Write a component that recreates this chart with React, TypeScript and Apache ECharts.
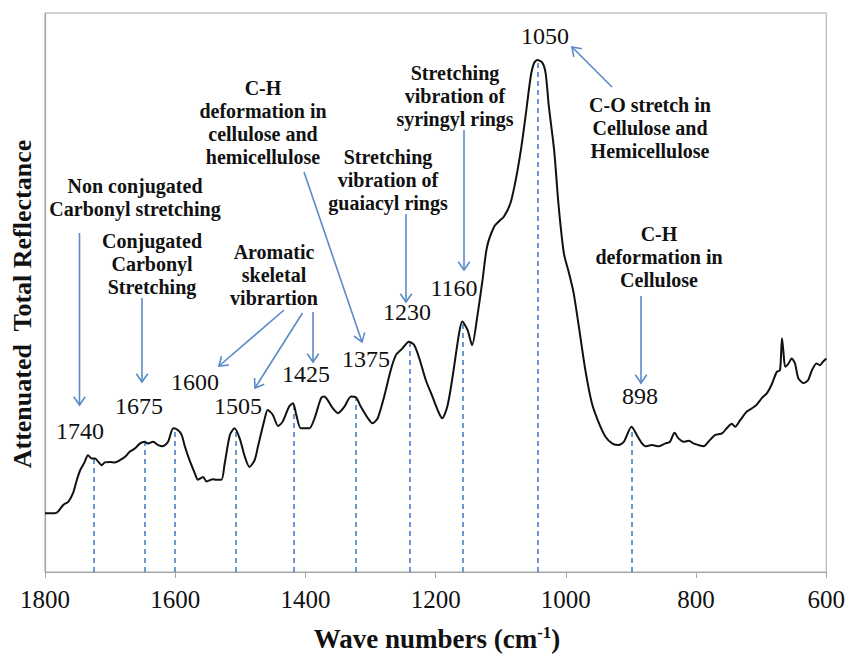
import React, { useEffect, useRef } from "react";
import * as echarts from "echarts";

// ---- data ----
const waveNumbers = [
  1800, 1785, 1780, 1772, 1764, 1757, 1751, 1746, 1739, 1734,
  1728, 1723, 1718, 1713, 1708, 1700, 1693, 1685, 1677, 1670,
  1662, 1654, 1647, 1642, 1634, 1626, 1619, 1611, 1603, 1596,
  1590, 1585, 1578, 1570, 1565, 1557, 1552, 1542, 1537, 1529,
  1524, 1516, 1509, 1501, 1493, 1486, 1478, 1473, 1463, 1458,
  1450, 1442, 1435, 1425, 1419, 1414, 1407, 1394, 1386, 1376,
  1371, 1366, 1358, 1350, 1340, 1330, 1322, 1315, 1304, 1297,
  1289, 1279, 1269, 1261, 1251, 1241, 1233, 1225, 1215, 1205,
  1197, 1190, 1182, 1174, 1164, 1159, 1151, 1144, 1136, 1128,
  1121, 1110, 1103, 1095, 1085, 1077, 1069, 1062, 1054, 1049,
  1044, 1036, 1031, 1026, 1018, 1011, 1003, 995, 988, 980,
  970, 960, 949, 939, 929, 919, 911, 899, 891, 883,
  878, 868, 857, 847, 840, 833, 827, 819, 811, 804,
  796, 788, 781, 771, 760, 753, 745, 740, 732, 722,
  714, 707, 699, 691, 684, 676, 671, 668, 666, 663,
  658, 653, 648, 643, 635, 628, 622, 615, 610, 605,
  600,
];
const reflectance = [
  10.5, 10.5, 10.8, 12.0, 12.6, 14.1, 16.5, 18.2, 19.7, 20.9,
  20.3, 20.3, 19.7, 19.1, 19.6, 19.7, 19.6, 20.0, 20.6, 21.5,
  22.1, 23.0, 23.3, 23.0, 23.3, 22.7, 22.5, 23.3, 25.7, 25.4,
  24.5, 22.4, 20.0, 17.7, 16.5, 17.0, 16.2, 16.6, 16.5, 16.5,
  19.4, 24.5, 25.7, 23.9, 20.6, 18.8, 20.0, 22.4, 27.2, 29.0,
  28.1, 26.1, 26.9, 29.6, 30.2, 28.1, 25.7, 25.7, 27.5, 31.1,
  31.4, 30.8, 29.3, 28.4, 29.6, 31.4, 31.2, 29.6, 27.5, 26.6,
  27.5, 31.4, 36.1, 38.8, 40.0, 41.2, 40.6, 38.2, 34.3, 31.4,
  29.0, 27.5, 29.6, 34.9, 42.7, 44.8, 43.3, 40.6, 45.7, 52.2,
  58.2, 61.8, 62.7, 63.6, 66.0, 70.1, 75.5, 81.4, 88.6, 91.0,
  91.6, 91.1, 89.2, 83.2, 75.5, 65.4, 57.0, 53.4, 49.9, 43.9,
  36.1, 30.2, 26.6, 24.2, 23.0, 22.7, 23.3, 26.0, 24.5, 23.0,
  22.5, 22.7, 22.5, 23.0, 23.3, 24.9, 23.9, 23.3, 23.5, 23.0,
  22.7, 22.5, 23.3, 24.5, 24.8, 25.7, 26.5, 26.0, 27.2, 28.7,
  29.3, 29.9, 31.1, 32.0, 33.5, 35.8, 36.1, 41.8, 39.7, 36.7,
  37.3, 38.2, 37.3, 34.7, 33.8, 34.3, 36.1, 37.3, 37.0, 37.6,
  38.2,
];
const peakPositions = [1725, 1647, 1600, 1507, 1418, 1322, 1240, 1158, 1043, 899];
const peakHeights = [20.4, 23.3, 25.8, 25.7, 30.2, 31.2, 41.2, 44.8, 91.6, 26.0];
const peakLabels = ["1740", "1675", "1600", "1505", "1425", "1375", "1230", "1160", "1050", "898"];
const xTicks = [1800, 1600, 1400, 1200, 1000, 800, 600];
const annotationTexts = [
  "Non conjugated\nCarbonyl stretching",
  "Conjugated\nCarbonyl\nStretching",
  "Aromatic\nskeletal\nvibrartion",
  "C-H\ndeformation in\ncellulose and\nhemicellulose",
  "Stretching\nvibration of\nguaiacyl rings",
  "Stretching\nvibration of\nsyringyl rings",
  "C-O stretch in\nCellulose and\nHemicellulose",
  "C-H\ndeformation in\nCellulose",
];

// ---- layout (pixels) ----
const peakLabelPos = [
  [80, 431], [139, 406], [195, 382], [238, 406], [306, 374],
  [366, 359], [407, 312], [454, 288], [545, 36], [640, 396],
];
const annotationPos = [
  [135, 197], [152, 264], [274, 275], [263, 122],
  [388, 180], [455, 96], [650, 128], [659, 257],
];
const arrows = [
  [79.5, 233, 79.5, 405],
  [142, 298, 142, 382],
  [284, 310, 219, 366],
  [302.5, 313, 255, 388],
  [313, 312, 313, 362],
  [304, 172, 362, 342],
  [406, 214, 406, 302],
  [464, 130, 464, 270],
  [612, 87, 572, 47],
  [641, 296, 641, 383],
];

const SERIF = "'Liberation Serif', 'Times New Roman', serif";
const BLUE = "#5A8BC8";
const DASH_BLUE = "#4A7FC4";

function arrowGraphics(a: number[]) {
  const [x1, y1, x2, y2] = a;
  const dx = x2 - x1;
  const dy = y2 - y1;
  const len = Math.sqrt(dx * dx + dy * dy);
  const ux = dx / len;
  const uy = dy / len;
  const L = 10;
  const ang = (35 * Math.PI) / 180;
  const rot = (t: number) => [ux * Math.cos(t) - uy * Math.sin(t), ux * Math.sin(t) + uy * Math.cos(t)];
  const r1 = rot(ang);
  const r2 = rot(-ang);
  return [
    {
      type: "line",
      shape: { x1, y1, x2, y2 },
      style: { stroke: BLUE, lineWidth: 1.6 },
    },
    {
      type: "polyline",
      shape: {
        points: [
          [x2 - r1[0] * L, y2 - r1[1] * L],
          [x2, y2],
          [x2 - r2[0] * L, y2 - r2[1] * L],
        ],
      },
      style: { stroke: BLUE, lineWidth: 1.6, fill: null },
    },
  ];
}

export default function App() {
  const ref = useRef<HTMLDivElement>(null);
  useEffect(() => {
    if (!ref.current) return;
    const chart = echarts.init(ref.current, null, { renderer: "svg" });
    const seriesData = waveNumbers.map((w, i) => [w, reflectance[i]]);
    const markLines = peakPositions.map((p, i) => [
      { coord: [p, 0], symbol: "none" },
      { coord: [p, peakHeights[i]], symbol: "none" },
    ]);

    const graphics: any[] = [];
    annotationTexts.forEach((t, i) => {
      graphics.push({
        type: "text",
        x: annotationPos[i][0],
        y: annotationPos[i][1],
        style: {
          text: t,
          fill: "#111",
          fontFamily: SERIF,
          fontSize: 20,
          fontWeight: "bold",
          lineHeight: 23,
          align: "center",
          verticalAlign: "middle",
        },
      });
    });
    peakLabels.forEach((t, i) => {
      graphics.push({
        type: "text",
        x: peakLabelPos[i][0],
        y: peakLabelPos[i][1],
        style: {
          text: t,
          fill: "#111",
          fontFamily: SERIF,
          fontSize: 24,
          align: "center",
          verticalAlign: "middle",
        },
      });
    });
    arrows.forEach((a) => graphics.push(...arrowGraphics(a)));
    graphics.push({
      type: "text",
      x: 22,
      y: 304,
      rotation: Math.PI / 2,
      style: {
        text: "Attenuated  Total Reflectance",
        fill: "#111",
        fontFamily: SERIF,
        fontSize: 26,
        fontWeight: "bold",
        align: "center",
        verticalAlign: "middle",
      },
    });
    graphics.push({
      type: "text",
      x: 437,
      y: 639,
      style: {
        text: "{a|Wave numbers (cm}{s|-1}{a|)}",
        fill: "#111",
        align: "center",
        verticalAlign: "middle",
        rich: {
          a: { fontFamily: SERIF, fontSize: 27, fontWeight: "bold", fill: "#111", lineHeight: 30 },
          s: { fontFamily: SERIF, fontSize: 17, fontWeight: "bold", fill: "#111", verticalAlign: "top", lineHeight: 30, padding: [0, 0, 12, 0] },
        },
      },
    });

    chart.setOption({
      animation: false,
      backgroundColor: "#fff",
      grid: {
        left: 45,
        right: 20,
        top: 13,
        bottom: 84,
        show: true,
        borderColor: "#A6A6A6",
        borderWidth: 1,
      },
      xAxis: {
        type: "value",
        min: 600,
        max: 1800,
        interval: 200,
        inverse: true,
        axisLine: { show: true, lineStyle: { color: "#A6A6A6", width: 1.2 } },
        axisTick: { show: true, length: 6, lineStyle: { color: "#A6A6A6" } },
        axisLabel: {
          color: "#111",
          fontFamily: SERIF,
          fontSize: 25,
          margin: 15,
          formatter: (v: number) => (xTicks.includes(v) ? String(v) : ""),
        },
        splitLine: { show: false },
      },
      yAxis: {
        type: "value",
        min: 0,
        max: 100,
        axisLine: { show: true, lineStyle: { color: "#A6A6A6", width: 1.2 } },
        axisTick: { show: false },
        axisLabel: { show: false },
        splitLine: { show: false },
      },
      series: [
        {
          type: "line",
          data: seriesData,
          symbol: "none",
          smooth: 0.25,
          lineStyle: { color: "#111", width: 2 },
          z: 3,
          markLine: {
            silent: true,
            symbol: "none",
            label: { show: false },
            lineStyle: { color: DASH_BLUE, type: [5, 4], width: 1.6 },
            data: markLines,
            z: 2,
          },
        },
      ],
      graphic: graphics,
    });
    return () => chart.dispose();
  }, []);
  return (
    <div
      ref={ref}
      style={{ position: "fixed", left: 0, top: 0, width: 848, height: 656, background: "#fff" }}
    />
  );
}
